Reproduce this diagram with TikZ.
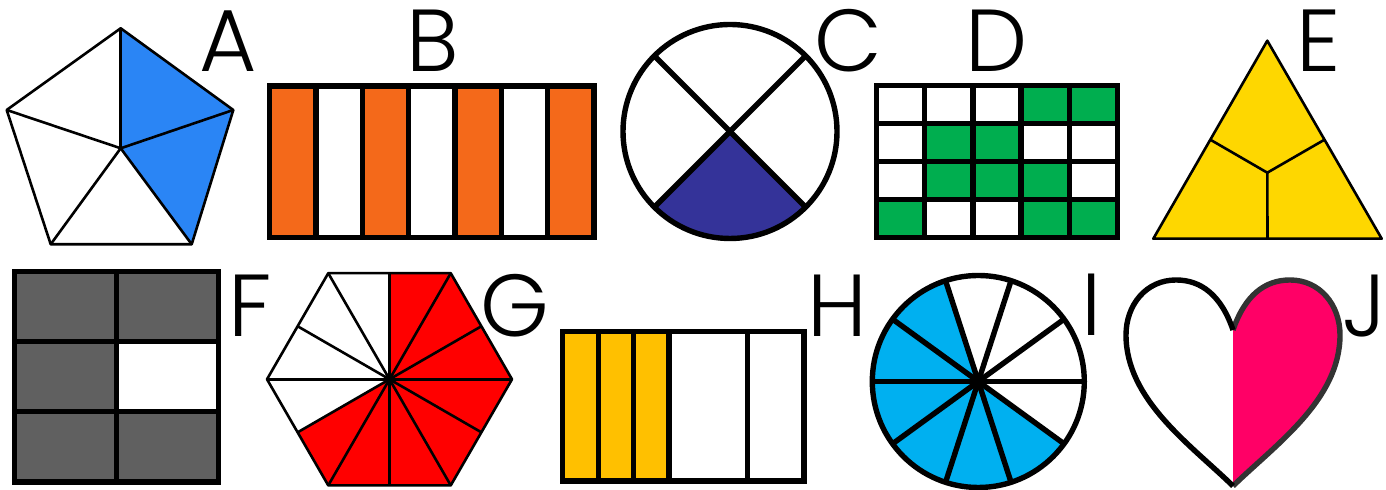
\documentclass[tikz,border=0pt]{standalone}
\usepackage{fontspec}
\setmainfont{Poppins}[UprightFont={* Light}]
\usepackage{tikz}
\usetikzlibrary{calc}

\definecolor{blueA}{HTML}{2A85F5}
\definecolor{orangeB}{HTML}{F4691A}
\definecolor{navyC}{HTML}{343399}
\definecolor{greenD}{HTML}{00AE4F}
\definecolor{yellowE}{HTML}{FED700}
\definecolor{grayF}{HTML}{606060}
\definecolor{redG}{HTML}{FF0000}
\definecolor{amberH}{HTML}{FFC000}
\definecolor{cyanI}{HTML}{00B0F0}
\definecolor{pinkJ}{HTML}{FF0066}

\begin{document}
\begin{tikzpicture}[x=0.5pt, y=0.5pt,
    thinline/.style={line width=1.3pt, line join=round},
    thickline/.style={line width=2.7pt},
    letter/.style={inner sep=0pt, font=\fontsize{44}{44}\selectfont}]

    \useasboundingbox (0,0) rectangle (1386,490);

    % A: pentagon, 2 of 5
    \coordinate (aT) at (120.7,461.7);
    \coordinate (aL) at (6.7,380);
    \coordinate (aR) at (233.3,380);
    \coordinate (aBL) at (50.7,245.7);
    \coordinate (aBR) at (191.7,245.7);
    \coordinate (aC) at (120.7,341.7);
    \fill[blueA] (aC) -- (aT) -- (aR) -- (aBR) -- cycle;
    \draw[thinline] (aT) -- (aR) -- (aBR) -- (aBL) -- (aL) -- cycle;
    \foreach \p in {aT,aR,aBR,aBL,aL}
        \draw[thinline] (aC) -- (\p);
    \node[letter] (labA) at (228,449) {A};

    % B: bar, 4 of 7
    \foreach \i in {0,2,4,6}
        \fill[orangeB] (269.5+\i*46.36,252.5) rectangle ++(46.36,151.5);
    \foreach \i in {1,...,6}
        \draw[thickline] (269.5+\i*46.36,252.5) -- ++(0,151.5);
    \draw[thickline] (269.5,252.5) rectangle (594,404);
    \node[letter] (labB) at (433,449) {B};

    % C: circle, 1 of 4
    \begin{scope}[shift={(730,358.5)}]
        \fill[navyC] (0,0) -- (225:107) arc (225:315:107) -- cycle;
        \draw[thickline] (45:107) -- (225:107);
        \draw[thickline] (135:107) -- (315:107);
        \draw[thickline] (0,0) circle (107);
    \end{scope}
    \node[letter] (labC) at (848,449) {C};

    % D: grid, 10 of 20
    \foreach \c/\r in {4/1,5/1,2/2,3/2,2/3,3/3,4/3,1/4,4/4,5/4}
        \fill[greenD] (876.5+\c*48.2-48.2,404.5-\r*38) rectangle ++(48.2,38);
    \foreach \c in {1,...,4}
        \draw[thickline] (876.5+\c*48.2,252.5) -- ++(0,152);
    \foreach \r in {1,2,3}
        \draw[thickline] (876.5,404.5-\r*38) -- ++(241,0);
    \draw[thickline] (876.5,252.5) rectangle (1117.5,404.5);
    \node[letter] (labD) at (997,449) {D};

    % E: triangle, 3 of 3
    \coordinate (eT) at (1267.3,449.3);
    \coordinate (eL) at (1153.3,251.3);
    \coordinate (eR) at (1381.7,251.3);
    \coordinate (eC) at (1267.3,317.3);
    \fill[yellowE] (eT) -- (eL) -- (eR) -- cycle;
    \draw[thinline] (eC) -- ($(eT)!0.5!(eL)$);
    \draw[thinline] (eC) -- ($(eT)!0.5!(eR)$);
    \draw[thinline] (eC) -- ($(eL)!0.5!(eR)$);
    \draw[thinline] (eT) -- (eL) -- (eR) -- cycle;
    \node[letter] (labE) at (1319,449) {E};

    % F: square, 5 of 6
    \fill[grayF] (14.7,8) rectangle (218.7,218.7);
    \fill[white] (116.7,78.3) rectangle (218.7,148.5);
    \draw[thickline] (116.7,8) -- (116.7,218.7);
    \draw[thickline] (14.7,78.3) -- (218.7,78.3);
    \draw[thickline] (14.7,148.5) -- (218.7,148.5);
    \draw[thickline] (14.7,8) rectangle (218.7,218.7);
    \node[letter] (labF) at (250,184) {F};

    % G: hexagon, 8 of 12
    \begin{scope}[shift={(389.5,110.7)}]
        \fill[redG] (0,0) -- (210:106.1) -- (240:122.5) -- (270:106.1)
            -- (300:122.5) -- (330:106.1) -- (0:122.5) -- (30:106.1)
            -- (60:122.5) -- (90:106.1) -- cycle;
        \foreach \a in {0,60,...,300}
            \draw[thinline] (0,0) -- (\a:122.5);
        \foreach \a in {30,90,...,330}
            \draw[thinline] (0,0) -- (\a:106.1);
        \draw[thinline] (0:122.5) -- (60:122.5) -- (120:122.5) -- (180:122.5)
            -- (240:122.5) -- (300:122.5) -- cycle;
    \end{scope}
    \node[letter] (labG) at (515,184) {G};

    % H: bar, 3 of 5
    \fill[amberH] (562.5,9) rectangle (669,158.5);
    \foreach \x in {598.3,633.3,669,747.3}
        \draw[thickline] (\x,9) -- (\x,158.5);
    \draw[thickline] (562.5,9) rectangle (804,158.5);
    \node[letter] (labH) at (837,184) {H};

    % I: circle, 6 of 10
    \begin{scope}[shift={(978.3,108.5)}]
        \fill[cyanI] (0,0) -- (108:106) arc (108:324:106) -- cycle;
        \foreach \a in {0,36,...,144}
            \draw[thickline] (\a:106) -- (\a+180:106);
        \draw[thickline] (0,0) circle (106);
    \end{scope}
    \node[letter] (labI) at (1092,185) {I};

    % J: heart, 1 of 2
    \fill[pinkJ] (1233,160) .. controls (1245,195) and (1265,210) .. (1290,210)
        .. controls (1320,210) and (1340,185) .. (1340,155)
        .. controls (1340,90) and (1275,45) .. (1233,4) -- cycle;
    \draw[thickline, black!80, line join=round] (1233,160) .. controls (1245,195) and (1265,210) .. (1290,210)
        .. controls (1320,210) and (1340,185) .. (1340,155)
        .. controls (1340,90) and (1275,45) .. (1233,4);
    \draw[thickline, line join=round] (1233,160) .. controls (1221,195) and (1201,210) .. (1176,210)
        .. controls (1146,210) and (1126,185) .. (1126,155)
        .. controls (1126,90) and (1191,45) .. (1233,4);
    \node[letter] (labJ) at (1364,184) {J};

\end{tikzpicture}
\end{document}
